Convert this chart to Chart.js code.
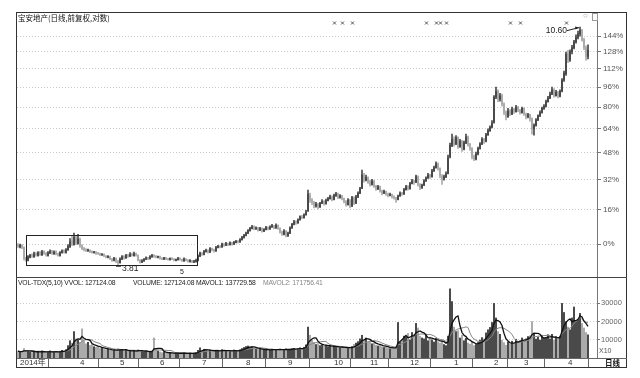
<!DOCTYPE html>
<html>
<head>
<meta charset="utf-8">
<script src="https://cdn.jsdelivr.net/npm/chart.js@4.4.0/dist/chart.umd.min.js"></script>
<style>
  body { margin: 0; background: #fff; }
  #wrap { position: relative; width: 640px; height: 378px; overflow: hidden;
          font-family: "Liberation Sans", "Noto Sans CJK SC", sans-serif; }
  #wrap canvas { position: absolute; }
  .txt { position: absolute; white-space: nowrap; color: #222; line-height: 1; }
  .hdr { font-size: 6.8px; letter-spacing: -0.2px; }
  .ln { position: absolute; background: #444; }
</style>
</head>
<body>
<div id="wrap">
  <canvas id="priceChart" width="610" height="265" style="left:16px;top:12px"></canvas>
  <canvas id="volChart" width="610" height="90" style="left:16px;top:277px"></canvas>

  <div style="position:absolute;left:16px;top:12px;width:611px;height:356px;box-sizing:border-box;border:1px solid #333;"></div>
  <div class="ln" style="left:16px;top:277px;width:611px;height:1px"></div>
  <div class="ln" style="left:597px;top:358px;width:30px;height:1px;background:#666"></div>

  <div class="txt" style="left:18px;top:14px;font-size:7.5px;font-family:'Noto Sans CJK SC';color:#111">宝安地产(日线,前复权,对数)</div>
  <div class="txt" style="left:583px;top:12px;font-size:8px;color:#999">○</div>
  <div style="position:absolute;left:592px;top:13px;width:4px;height:6px;border:1px solid #999"></div>
  <div class="txt" style="left:180px;top:268px;font-size:7px">5</div>

  <div class="txt hdr" style="left:18px;top:280px">VOL-TDX(5,10) VVOL: 127124.08</div>
  <div class="txt hdr" style="left:133px;top:280px">VOLUME: 127124.08</div>
  <div class="txt hdr" style="left:196px;top:280px">MAVOL1: 137729.58</div>
  <div class="txt hdr" style="left:263px;top:280px;color:#888">MAVOL2: 171756.41</div>
  <div class="txt" style="left:599px;top:347px;font-size:7px;color:#555">X10</div>
  <div class="txt" style="left:605px;top:359px;font-size:7.5px;font-family:'Noto Sans CJK SC';font-weight:bold;color:#111">日线</div>
</div>

<script>
// price base for the percent axis (0% line) and axis ticks
const basePrice = 4.18;
const tickPcts = [0, 16, 32, 48, 64, 80, 96, 112, 128, 144];
const volTicks = [10000, 20000, 30000];

// month starts (bar index) and their labels
const monthStarts = [0, 30, 50, 70, 91, 113, 134, 157, 175, 195, 217, 237, 252, 274];
const monthLabels = ['2014年', '4', '5', '6', '7', '8', '9', '10', '11', '12', '1', '2', '3', '4'];

// bars carrying an event marker at the top
const eventIdx = [158, 162, 167, 204, 209, 211, 214, 246, 251, 274];

// boxed consolidation range: bar index from/to, price top/bottom
const boxSpan = { from: 4, to: 89.5, top: 4.34, bottom: 3.82 };

// daily candles
const opens = [
  4.17, 4.13, 4.16, 4.12, 3.93, 3.90, 3.95, 3.99, 3.96, 4.02,
  3.98, 4.04, 3.99, 4.05, 4.02, 3.98, 4.03, 4.06, 4.01, 4.05,
  4.01, 3.98, 4.03, 4.07, 4.03, 4.08, 4.13, 4.25, 4.17, 4.30,
  4.19, 4.27, 4.15, 4.11, 4.08, 4.06, 4.07, 4.05, 4.03, 4.04,
  4.02, 4.01, 3.99, 4.00, 3.97, 3.95, 3.96, 3.92, 3.90, 3.93,
  3.88, 3.86, 3.92, 3.96, 3.94, 3.98, 3.97, 4.00, 3.98, 4.01,
  3.98, 3.90, 3.87, 3.89, 3.92, 3.94, 3.93, 3.96, 3.98, 3.97,
  3.95, 3.96, 3.93, 3.92, 3.94, 3.92, 3.91, 3.93, 3.92, 3.90,
  3.91, 3.93, 3.91, 3.89, 3.92, 3.90, 3.88, 3.89, 3.87, 3.88,
  3.90, 3.97, 4.02, 4.00, 4.05, 4.07, 4.04, 4.10, 4.08, 4.06,
  4.12, 4.14, 4.13, 4.18, 4.16, 4.19, 4.17, 4.20, 4.18, 4.21,
  4.23, 4.22, 4.26, 4.30, 4.34, 4.38, 4.43, 4.47, 4.51, 4.46,
  4.48, 4.44, 4.47, 4.42, 4.45, 4.49, 4.46, 4.50, 4.52, 4.48,
  4.53, 4.47, 4.40, 4.36, 4.42, 4.33, 4.38, 4.48, 4.55, 4.60,
  4.58, 4.64, 4.70, 4.68, 4.74, 4.82, 5.15, 5.05, 5.00, 4.92,
  4.96, 4.90, 4.98, 5.02, 4.97, 5.04, 5.08, 5.12, 5.06, 5.15,
  5.18, 5.10, 5.14, 5.08, 5.02, 4.95, 5.05, 4.92, 5.10, 4.98,
  5.12, 5.20, 5.31, 5.62, 5.50, 5.56, 5.45, 5.40, 5.48, 5.36,
  5.30, 5.35, 5.25, 5.20, 5.24, 5.18, 5.15, 5.17, 5.12, 5.10,
  5.06, 5.14, 5.20, 5.18, 5.28, 5.35, 5.30, 5.42, 5.48, 5.45,
  5.58, 5.40, 5.32, 5.38, 5.48, 5.55, 5.62, 5.58, 5.72, 5.80,
  5.90, 5.78, 5.60, 5.52, 5.58, 5.66, 6.08, 6.38, 6.55, 6.42,
  6.60, 6.35, 6.50, 6.28, 6.45, 6.62, 6.40, 6.30, 6.08, 6.02,
  6.15, 6.30, 6.42, 6.55, 6.50, 6.68, 6.80, 6.90, 7.05, 7.85,
  8.05, 7.78, 7.90, 7.62, 7.35, 7.22, 7.40, 7.30, 7.45, 7.38,
  7.52, 7.42, 7.35, 7.48, 7.30, 7.22, 7.28, 7.15, 6.85, 6.95,
  7.12, 7.25, 7.35, 7.48, 7.55, 7.70, 7.82, 7.95, 8.10, 7.90,
  8.02, 7.88, 8.06, 8.45, 8.68, 9.45, 9.20, 9.55, 9.70, 9.95,
  10.15, 10.30, 10.45, 10.05, 9.70, 9.35
];
const highs = [
  4.19, 4.18, 4.17, 4.13, 3.95, 3.98, 4.00, 4.01, 4.04, 4.03,
  4.05, 4.05, 4.07, 4.06, 4.03, 4.05, 4.08, 4.07, 4.06, 4.06,
  4.02, 4.05, 4.08, 4.08, 4.10, 4.17, 4.28, 4.34, 4.38, 4.33,
  4.36, 4.29, 4.17, 4.12, 4.10, 4.09, 4.08, 4.06, 4.05, 4.05,
  4.03, 4.02, 4.01, 4.01, 3.98, 3.98, 3.97, 3.93, 3.95, 3.94,
  3.90, 3.94, 3.98, 3.98, 4.00, 4.00, 4.03, 4.02, 4.04, 4.02,
  3.99, 3.91, 3.91, 3.93, 3.96, 3.95, 3.98, 4.00, 3.99, 3.98,
  3.97, 3.97, 3.94, 3.95, 3.95, 3.93, 3.94, 3.94, 3.93, 3.92,
  3.95, 3.94, 3.92, 3.94, 3.93, 3.91, 3.91, 3.90, 3.90, 3.92,
  3.99, 4.04, 4.03, 4.07, 4.09, 4.08, 4.12, 4.11, 4.09, 4.14,
  4.16, 4.15, 4.20, 4.19, 4.21, 4.20, 4.22, 4.21, 4.23, 4.25,
  4.24, 4.28, 4.32, 4.36, 4.40, 4.45, 4.49, 4.53, 4.52, 4.50,
  4.49, 4.49, 4.48, 4.47, 4.51, 4.50, 4.52, 4.55, 4.53, 4.56,
  4.54, 4.48, 4.42, 4.45, 4.43, 4.40, 4.50, 4.57, 4.63, 4.62,
  4.66, 4.72, 4.73, 4.76, 4.83, 5.27, 5.20, 5.08, 5.02, 5.00,
  4.98, 5.00, 5.06, 5.04, 5.07, 5.11, 5.16, 5.14, 5.18, 5.22,
  5.20, 5.17, 5.15, 5.09, 5.04, 5.08, 5.06, 5.13, 5.12, 5.15,
  5.23, 5.33, 5.74, 5.66, 5.62, 5.58, 5.50, 5.52, 5.49, 5.38,
  5.38, 5.36, 5.27, 5.27, 5.25, 5.20, 5.20, 5.18, 5.14, 5.11,
  5.16, 5.23, 5.22, 5.31, 5.38, 5.37, 5.45, 5.52, 5.50, 5.62,
  5.60, 5.42, 5.41, 5.51, 5.58, 5.66, 5.64, 5.76, 5.84, 5.95,
  5.92, 5.80, 5.63, 5.62, 5.70, 6.12, 6.45, 6.70, 6.62, 6.66,
  6.62, 6.55, 6.52, 6.50, 6.70, 6.64, 6.44, 6.32, 6.12, 6.20,
  6.34, 6.46, 6.60, 6.58, 6.72, 6.85, 6.94, 7.10, 7.90, 8.20,
  8.10, 7.98, 7.95, 7.66, 7.40, 7.48, 7.44, 7.52, 7.48, 7.58,
  7.55, 7.45, 7.52, 7.50, 7.33, 7.32, 7.30, 7.18, 7.00, 7.16,
  7.28, 7.40, 7.52, 7.60, 7.75, 7.88, 8.02, 8.20, 8.14, 8.08,
  8.05, 8.10, 8.50, 8.78, 9.52, 9.60, 9.62, 9.80, 10.02, 10.25,
  10.42, 10.60, 10.50, 10.10, 9.78, 9.82
];
const lows = [
  4.12, 4.11, 4.10, 3.90, 3.88, 3.89, 3.94, 3.95, 3.95, 3.97,
  3.97, 3.98, 3.98, 4.00, 3.97, 3.97, 4.01, 4.00, 4.00, 3.99,
  3.97, 3.97, 4.02, 4.02, 4.02, 4.07, 4.12, 4.15, 4.16, 4.17,
  4.18, 4.12, 4.08, 4.06, 4.05, 4.05, 4.03, 4.02, 4.02, 4.00,
  4.00, 3.98, 3.98, 3.96, 3.94, 3.94, 3.91, 3.88, 3.89, 3.86,
  3.81, 3.85, 3.91, 3.92, 3.93, 3.95, 3.96, 3.97, 3.97, 3.97,
  3.89, 3.85, 3.86, 3.88, 3.91, 3.91, 3.92, 3.95, 3.95, 3.94,
  3.94, 3.92, 3.91, 3.91, 3.91, 3.90, 3.90, 3.91, 3.89, 3.89,
  3.90, 3.90, 3.88, 3.88, 3.89, 3.87, 3.87, 3.86, 3.86, 3.87,
  3.89, 3.96, 3.98, 3.99, 4.04, 4.02, 4.03, 4.06, 4.04, 4.05,
  4.11, 4.11, 4.12, 4.14, 4.15, 4.15, 4.16, 4.16, 4.17, 4.20,
  4.20, 4.21, 4.25, 4.29, 4.33, 4.37, 4.42, 4.46, 4.44, 4.45,
  4.42, 4.43, 4.40, 4.41, 4.44, 4.44, 4.45, 4.49, 4.46, 4.47,
  4.45, 4.38, 4.34, 4.35, 4.31, 4.32, 4.37, 4.47, 4.54, 4.55,
  4.57, 4.63, 4.66, 4.67, 4.73, 4.81, 5.00, 4.95, 4.88, 4.90,
  4.86, 4.89, 4.97, 4.94, 4.96, 5.03, 5.07, 5.03, 5.05, 5.13,
  5.08, 5.09, 5.05, 4.99, 4.92, 4.94, 4.88, 4.91, 4.95, 4.97,
  5.10, 5.19, 5.30, 5.45, 5.48, 5.42, 5.36, 5.38, 5.33, 5.26,
  5.28, 5.22, 5.16, 5.19, 5.15, 5.12, 5.14, 5.09, 5.07, 5.00,
  5.05, 5.13, 5.15, 5.17, 5.27, 5.27, 5.29, 5.41, 5.40, 5.44,
  5.36, 5.28, 5.31, 5.37, 5.47, 5.54, 5.54, 5.57, 5.71, 5.79,
  5.74, 5.55, 5.40, 5.50, 5.56, 5.65, 6.05, 6.35, 6.36, 6.40,
  6.30, 6.33, 6.22, 6.26, 6.43, 6.36, 6.25, 6.02, 5.98, 6.00,
  6.13, 6.28, 6.40, 6.44, 6.48, 6.66, 6.78, 6.88, 7.02, 7.80,
  7.70, 7.72, 7.55, 7.28, 7.12, 7.20, 7.25, 7.28, 7.32, 7.36,
  7.38, 7.30, 7.33, 7.26, 7.15, 7.18, 7.08, 6.70, 6.67, 6.93,
  7.10, 7.22, 7.33, 7.45, 7.53, 7.68, 7.80, 7.93, 7.85, 7.88,
  7.82, 7.86, 8.03, 8.40, 8.62, 9.10, 9.15, 9.45, 9.65, 9.90,
  10.08, 10.20, 9.98, 9.62, 9.20, 9.25
];
const closes = [
  4.14, 4.16, 4.12, 3.93, 3.91, 3.96, 3.98, 3.97, 4.01, 3.99,
  4.03, 4.00, 4.04, 4.02, 3.99, 4.03, 4.05, 4.02, 4.04, 4.01,
  3.99, 4.03, 4.06, 4.04, 4.08, 4.14, 4.22, 4.18, 4.30, 4.20,
  4.27, 4.15, 4.10, 4.08, 4.06, 4.07, 4.05, 4.03, 4.04, 4.02,
  4.01, 3.99, 4.00, 3.97, 3.95, 3.96, 3.92, 3.90, 3.93, 3.88,
  3.86, 3.92, 3.96, 3.94, 3.98, 3.97, 4.00, 3.98, 4.01, 3.99,
  3.90, 3.87, 3.89, 3.92, 3.94, 3.93, 3.96, 3.98, 3.97, 3.95,
  3.96, 3.93, 3.92, 3.94, 3.92, 3.91, 3.93, 3.92, 3.90, 3.91,
  3.93, 3.91, 3.89, 3.92, 3.90, 3.88, 3.89, 3.87, 3.88, 3.90,
  3.97, 4.02, 4.00, 4.05, 4.07, 4.04, 4.10, 4.08, 4.06, 4.12,
  4.14, 4.13, 4.18, 4.16, 4.19, 4.17, 4.20, 4.18, 4.21, 4.23,
  4.22, 4.26, 4.30, 4.34, 4.38, 4.43, 4.47, 4.50, 4.46, 4.48,
  4.44, 4.47, 4.42, 4.45, 4.49, 4.46, 4.50, 4.52, 4.48, 4.53,
  4.47, 4.40, 4.36, 4.42, 4.33, 4.38, 4.48, 4.55, 4.60, 4.58,
  4.64, 4.70, 4.68, 4.74, 4.80, 5.18, 5.05, 5.00, 4.92, 4.96,
  4.90, 4.98, 5.02, 4.97, 5.04, 5.08, 5.12, 5.06, 5.15, 5.18,
  5.10, 5.14, 5.08, 5.02, 4.95, 5.05, 4.92, 5.10, 4.98, 5.12,
  5.20, 5.30, 5.62, 5.50, 5.56, 5.45, 5.40, 5.48, 5.36, 5.30,
  5.35, 5.25, 5.20, 5.24, 5.18, 5.15, 5.17, 5.12, 5.10, 5.06,
  5.14, 5.20, 5.18, 5.28, 5.35, 5.30, 5.42, 5.48, 5.45, 5.58,
  5.40, 5.32, 5.38, 5.48, 5.55, 5.62, 5.58, 5.72, 5.80, 5.90,
  5.78, 5.60, 5.52, 5.58, 5.65, 6.05, 6.38, 6.55, 6.42, 6.60,
  6.35, 6.50, 6.28, 6.45, 6.62, 6.40, 6.30, 6.08, 6.02, 6.15,
  6.30, 6.42, 6.55, 6.50, 6.68, 6.80, 6.90, 7.02, 7.85, 8.05,
  7.78, 7.90, 7.62, 7.35, 7.22, 7.40, 7.30, 7.45, 7.38, 7.52,
  7.42, 7.35, 7.48, 7.30, 7.22, 7.28, 7.15, 6.85, 6.95, 7.12,
  7.25, 7.35, 7.48, 7.55, 7.70, 7.82, 7.95, 8.10, 7.90, 8.02,
  7.88, 8.05, 8.45, 8.70, 9.45, 9.20, 9.55, 9.70, 9.95, 10.15,
  10.30, 10.45, 10.05, 9.70, 9.35, 9.60
];

// daily volume (axis units, x10 hands)
const volumes = [
  3800, 3200, 3500, 5200, 4100, 3600, 3300, 3000, 3900, 3400,
  3600, 3100, 3800, 3300, 2900, 3500, 3900, 3200, 3600, 3000,
  3300, 3700, 4200, 3800, 4600, 6800, 9500, 8200, 14500, 10500,
  9800, 8600, 16000, 9200, 7800, 8600, 6900, 7400, 6200, 5800,
  6400, 5200, 5600, 4800, 4500, 5100, 4200, 3900, 4400, 4100,
  5200, 4800, 4300, 3900, 4500, 3700, 4000, 3600, 4200, 3500,
  4600, 4100, 3600, 3300, 3800, 3400, 3200, 3600, 11000, 4800,
  3900, 3300, 2900, 3100, 2800, 2600, 3000, 2700, 2500, 2800,
  2600, 2400, 2700, 2900, 2500, 2300, 2600, 2400, 2700, 3000,
  4200, 5600, 4300, 4800, 4100, 3800, 4500, 3900, 3600, 4200,
  4000, 3700, 4600, 4100, 3800, 4300, 3600, 3900, 4400, 4000,
  3800, 4500, 5200, 5800, 6300, 6600, 5900, 6200, 5400, 5000,
  4700, 5100, 4500, 4300, 4800, 4200, 4600, 4900, 4400, 4700,
  4500, 4900, 4300, 4600, 5200, 4400, 4800, 5000, 5300, 4700,
  5100, 5600, 5000, 5900, 7200, 17000, 12500, 9800, 8600, 7400,
  7900, 6800, 7300, 6500, 7000, 6200, 6700, 6000, 6400, 5800,
  6300, 5600, 6100, 5400, 5900, 5200, 5700, 6300, 7500, 8200,
  9000, 10500, 12500, 9800, 11000, 8600, 9200, 7800, 8300, 7000,
  6600, 7400, 6200, 5800, 6400, 5500, 5100, 5700, 5300, 6200,
  19500, 8600, 10200, 12000, 11500, 13500, 9800, 14000, 12800, 19000,
  16500, 12000, 11000, 10500, 13000, 9500, 11500, 10000, 8800, 10800,
  9000, 8200, 9500, 7400, 6800, 12000, 38000, 31000, 17000, 14500,
  15000, 11000, 12500, 9500, 10800, 8200, 7600, 9000, 6800, 7400,
  8500, 9800, 11200, 10500, 13800, 15500, 16800, 19500, 30000, 22000,
  14500, 13000, 9800, 8400, 7000, 8900, 7600, 9200, 8000, 10300,
  8800, 9600, 11000, 9300, 10800, 11800, 12200, 20000, 13500, 10400,
  11500, 9800, 12500, 10800, 11200, 12800, 10500, 13000, 9800, 11500,
  10200, 12000, 30000, 25000, 20000, 17000, 15500, 22000, 28000, 20000,
  21000, 24500, 19000, 16500, 14000, 12712
];

const FONT = '"Liberation Sans", "Noto Sans CJK SC", sans-serif';
Chart.defaults.font.family = FONT;

const UP = '#4a4a4a', DOWN = '#ababab';
const candleColors = closes.map((c, i) => c >= opens[i] ? UP : DOWN);

function movingAvg(arr, n) {
  return arr.map((v, i) => {
    const part = arr.slice(Math.max(0, i - n + 1), i + 1);
    return part.reduce((s, a) => s + a, 0) / part.length;
  });
}
const mavol1 = movingAvg(volumes, 5);
const mavol2 = movingAvg(volumes, 10);

const xRange = { min: -0.5, max: 289.5 };

// box, peak / low labels and event crosses on the price panel
const notesPlugin = {
  id: 'notes',
  afterDatasetsDraw(chart) {
    const { ctx, chartArea, scales: { x, y } } = chart;
    ctx.save();
    ctx.strokeStyle = '#222';
    ctx.fillStyle = '#222';
    ctx.lineWidth = 1;

    const bx0 = Math.round(x.getPixelForValue(boxSpan.from)) + 0.5;
    const bx1 = Math.round(x.getPixelForValue(boxSpan.to)) + 0.5;
    const by0 = Math.round(y.getPixelForValue(boxSpan.top)) + 0.5;
    const by1 = Math.round(y.getPixelForValue(boxSpan.bottom)) + 0.5;
    ctx.strokeRect(bx0, by0, bx1 - bx0, by1 - by0);

    ctx.font = '8.5px ' + FONT;
    // highest price
    const hi = highs.indexOf(Math.max(...highs));
    const hx = x.getPixelForValue(hi), hy = y.getPixelForValue(highs[hi]);
    ctx.beginPath(); ctx.moveTo(hx - 13, hy + 3.5); ctx.lineTo(hx - 1, hy + 0.5); ctx.stroke();
    ctx.beginPath(); ctx.moveTo(hx - 1, hy + 0.5); ctx.lineTo(hx - 5, hy - 0.5); ctx.lineTo(hx - 4.5, hy + 2.5); ctx.closePath(); ctx.fill();
    ctx.textAlign = 'right'; ctx.textBaseline = 'middle';
    ctx.fillText(highs[hi].toFixed(2), hx - 13, hy + 4);

    // lowest price
    const lo = lows.indexOf(Math.min(...lows));
    const lx = x.getPixelForValue(lo), ly = y.getPixelForValue(lows[lo]);
    ctx.beginPath(); ctx.moveTo(lx - 2, ly + 0.5); ctx.lineTo(lx + 3, ly + 0.5); ctx.stroke();
    ctx.textAlign = 'left';
    ctx.fillText(lows[lo].toFixed(2), lx + 4, ly + 3);

    // event crosses along the top
    ctx.strokeStyle = '#555';
    const ty = chartArea.top + 11;
    eventIdx.forEach(i => {
      const ex = Math.round(x.getPixelForValue(i)) + 0.5;
      ctx.beginPath();
      ctx.moveTo(ex - 1.5, ty - 1.5); ctx.lineTo(ex + 1.5, ty + 1.5);
      ctx.moveTo(ex + 1.5, ty - 1.5); ctx.lineTo(ex - 1.5, ty + 1.5);
      ctx.stroke();
    });
    ctx.restore();
  }
};

// PRICE PANEL
new Chart(document.getElementById('priceChart'), {
  type: 'bar',
  plugins: [notesPlugin],
  data: {
    datasets: [{
      data: opens.map((o, i) => ({ x: i, y: [o, closes[i]] })),
      backgroundColor: candleColors,
      barThickness: 1.4,
      minBarLength: 1,
      grouped: false
    }, {
      data: lows.map((l, i) => ({ x: i, y: [l, highs[i]] })),
      backgroundColor: candleColors,
      barThickness: 1,
      grouped: false
    }]
  },
  options: {
    responsive: false,
    animation: false,
    layout: { padding: { left: 1 } },
    plugins: { legend: { display: false }, tooltip: { enabled: false } },
    scales: {
      x: { type: 'linear', display: false, min: xRange.min, max: xRange.max, offset: false },
      y: {
        type: 'logarithmic',
        position: 'right',
        min: 3.63,
        max: 11.31,
        afterBuildTicks: s => { s.ticks = tickPcts.map(p => ({ value: basePrice * (1 + p / 100) })); },
        afterFit: s => { s.width = 29; s.paddingTop = 0; s.paddingBottom = 0; },
        ticks: { callback: (v, i) => tickPcts[i] + '%', color: '#555', font: { size: 8 }, padding: 2 },
        grid: { color: '#cccccc', tickColor: '#777', tickLength: 4 },
        border: { display: true, color: '#777', dash: [1, 2] }
      }
    }
  }
});

// VOLUME PANEL
new Chart(document.getElementById('volChart'), {
  type: 'bar',
  data: {
    datasets: [{
      type: 'line',
      data: mavol1.map((v, i) => ({ x: i, y: v })),
      borderColor: '#111',
      borderWidth: 1.3,
      pointRadius: 0
    }, {
      type: 'line',
      data: mavol2.map((v, i) => ({ x: i, y: v })),
      borderColor: '#888',
      borderWidth: 1,
      pointRadius: 0
    }, {
      data: volumes.map((v, i) => ({ x: i, y: v })),
      backgroundColor: candleColors,
      barThickness: 1.4
    }]
  },
  options: {
    responsive: false,
    animation: false,
    layout: { padding: { left: 1 } },
    plugins: { legend: { display: false }, tooltip: { enabled: false } },
    scales: {
      x: {
        type: 'linear', min: xRange.min, max: xRange.max, offset: false,
        afterBuildTicks: s => { s.ticks = monthStarts.map(v => ({ value: v })); },
        afterFit: s => { s.height = 9; s.paddingLeft = 0; s.paddingRight = 0; },
        ticks: { callback: (v, i) => monthLabels[i], autoSkip: false, maxRotation: 0, align: 'start',
                 padding: -9, labelOffset: 2, color: '#333', font: { size: 8 } },
        grid: { drawOnChartArea: false, tickLength: 9, tickColor: '#666' },
        border: { color: '#666' }
      },
      y: {
        position: 'right',
        min: 0,
        max: 44500,
        afterBuildTicks: s => { s.ticks = volTicks.map(v => ({ value: v })); },
        afterFit: s => { s.width = 29; s.paddingTop = 0; s.paddingBottom = 0; },
        ticks: { callback: v => String(v), color: '#666', font: { size: 7.5 }, padding: 1 },
        grid: { color: '#cccccc', tickColor: '#777', tickLength: 3 },
        border: { display: true, color: '#777', dash: [1, 2] }
      }
    }
  }
});
</script>
</body>
</html>
